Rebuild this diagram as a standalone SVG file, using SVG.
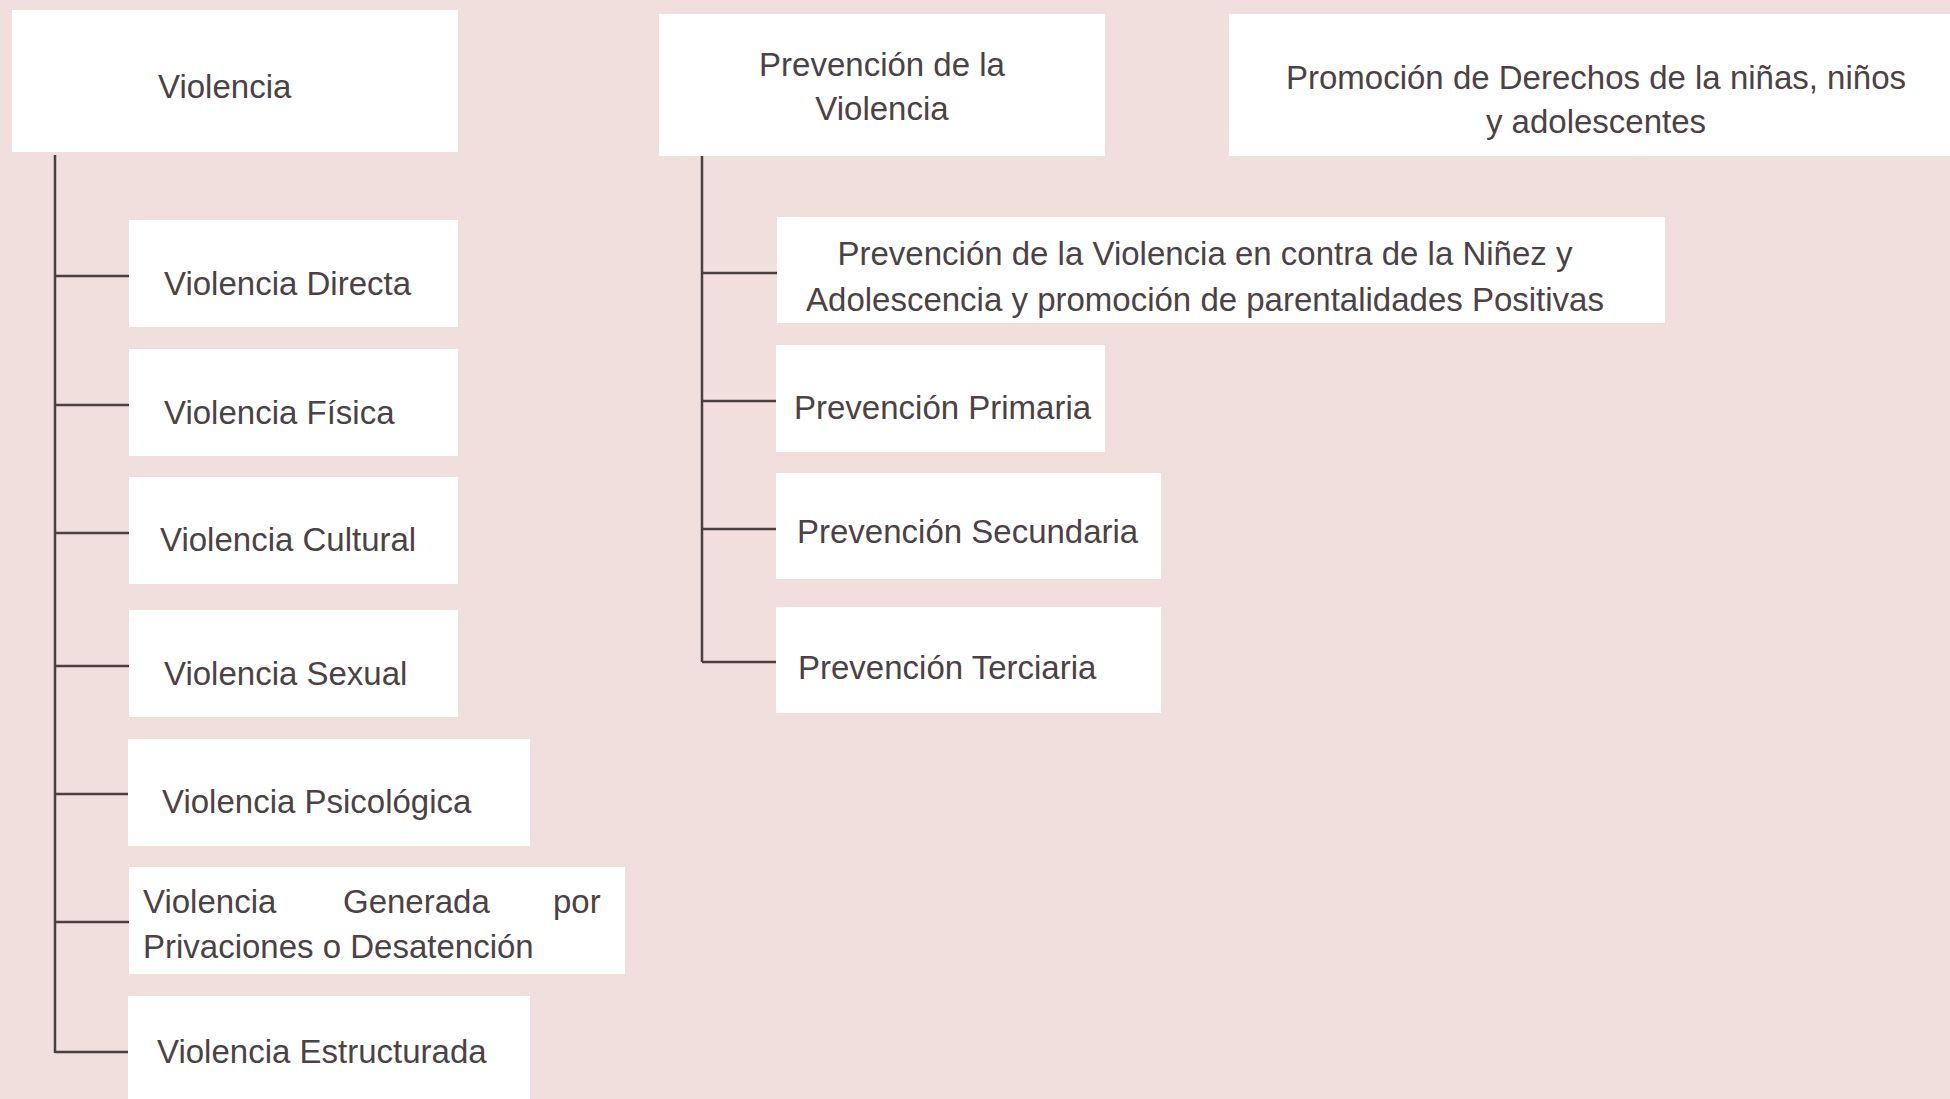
<svg xmlns="http://www.w3.org/2000/svg" width="1950" height="1099" viewBox="0 0 1950 1099">
<style>
.box{fill:#ffffff}
.t{font-family:"Liberation Sans",Arial,sans-serif;font-size:33px;fill:#4a4244}
.c{text-anchor:middle}
.ln{stroke:#4a3f40;stroke-width:2.5;fill:none}
</style>
<rect x="0" y="0" width="1950" height="1099" fill="#f1dfdd"/>
<g id="connectors">
<path class="ln" d="M55 155 V1053"/>
<path class="ln" d="M55 276 H129 M55 405 H129 M55 533 H129 M55 666 H129 M55 794 H128 M55 922 H129 M55 1052 H128"/>
<path class="ln" d="M702 156 V662"/>
<path class="ln" d="M702 273 H777 M702 401 H776 M702 529 H776 M702 662 H776"/>
</g>
<g id="n-violencia"><rect class="box" x="12" y="10" width="446" height="142"/><text class="t" x="158" y="98">Violencia</text></g>
<g id="n-directa"><rect class="box" x="129" y="220" width="329" height="107"/><text class="t" x="164" y="295">Violencia Directa</text></g>
<g id="n-fisica"><rect class="box" x="129" y="349" width="329" height="107"/><text class="t" x="164" y="424">Violencia Física</text></g>
<g id="n-cultural"><rect class="box" x="129" y="477" width="329" height="107"/><text class="t" x="160" y="551">Violencia Cultural</text></g>
<g id="n-sexual"><rect class="box" x="129" y="610" width="329" height="107"/><text class="t" x="164" y="685">Violencia Sexual</text></g>
<g id="n-psicologica"><rect class="box" x="128" y="739" width="402" height="107"/><text class="t" x="162" y="813">Violencia Psicológica</text></g>
<g id="n-generada"><rect class="box" x="129" y="867" width="496" height="107"/><text class="t" y="913"><tspan x="143">Violencia</tspan><tspan x="343">Generada</tspan><tspan x="553">por</tspan></text><text class="t" x="143" y="958">Privaciones o Desatención</text></g>
<g id="n-estructurada"><rect class="box" x="128" y="996" width="402" height="110"/><text class="t" x="157" y="1063">Violencia Estructurada</text></g>
<g id="n-prevencion"><rect class="box" x="659" y="14" width="446" height="142"/><text class="t c" x="882" y="76">Prevención de la</text><text class="t c" x="882" y="120">Violencia</text></g>
<g id="n-promocion"><rect class="box" x="1229" y="14" width="730" height="142"/><text class="t c" x="1596" y="89">Promoción de Derechos de la niñas, niños</text><text class="t c" x="1596" y="133">y adolescentes</text></g>
<g id="n-prev-ninez"><rect class="box" x="777" y="217" width="888" height="106"/><text class="t c" x="1205" y="265">Prevención de la Violencia en contra de la Niñez y</text><text class="t c" x="1205" y="311">Adolescencia y promoción de parentalidades Positivas</text></g>
<g id="n-primaria"><rect class="box" x="776" y="345" width="329" height="107"/><text class="t" x="794" y="419">Prevención Primaria</text></g>
<g id="n-secundaria"><rect class="box" x="776" y="473" width="385" height="106"/><text class="t" x="797" y="543">Prevención Secundaria</text></g>
<g id="n-terciaria"><rect class="box" x="776" y="607" width="385" height="106"/><text class="t" x="798" y="679">Prevención Terciaria</text></g>
</svg>
